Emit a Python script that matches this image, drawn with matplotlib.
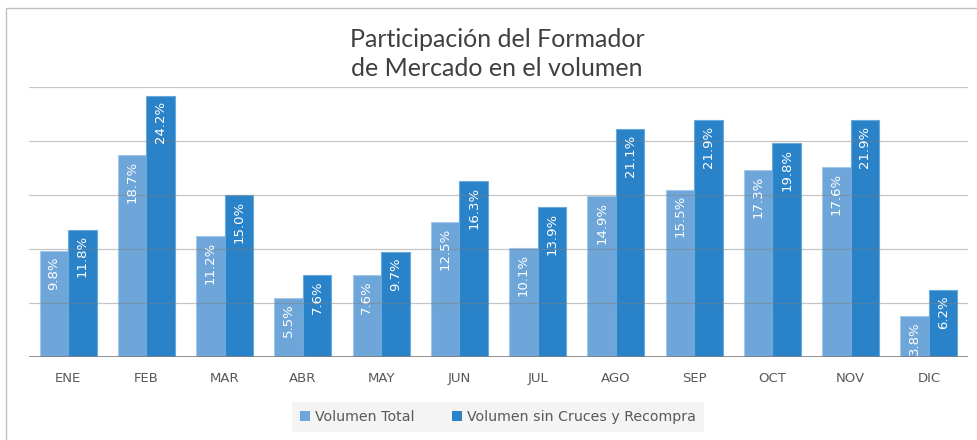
import matplotlib
matplotlib.use("Agg")
import matplotlib.pyplot as plt
from matplotlib.patches import Patch, Rectangle
import numpy as np

meses = ["ENE", "FEB", "MAR", "ABR", "MAY", "JUN", "JUL", "AGO", "SEP", "OCT", "NOV", "DIC"]
vol_total = [9.8, 18.7, 11.2, 5.5, 7.6, 12.5, 10.1, 14.9, 15.5, 17.3, 17.6, 3.8]
vol_sin_cruces = [11.8, 24.2, 15.0, 7.6, 9.7, 16.3, 13.9, 21.1, 21.9, 19.8, 21.9, 6.2]
series = ["Volumen Total", "Volumen sin Cruces y Recompra"]

c_light = "#6fa6d9"
c_dark = "#2a83c8"

fig = plt.figure(figsize=(9.77, 4.40), dpi=100)
ax = fig.add_axes([29 / 977, 1 - 357 / 440, 939 / 977, 270 / 440])

x = np.arange(len(meses))
w = 0.365
b1 = ax.bar(x - w / 2, vol_total, w, color=c_light, edgecolor="#a3c8ea", linewidth=0.8, zorder=2)
b2 = ax.bar(x + w / 2, vol_sin_cruces, w, color=c_dark, edgecolor="#6aa9dc", linewidth=0.8, zorder=2)

# value labels, rotated, inside top of each bar
for bars, vals in ((b1, vol_total), (b2, vol_sin_cruces)):
    for r, v in zip(bars, vals):
        ax.annotate(f"{v:.1f}%", (r.get_x() + r.get_width() / 2, v),
                    xytext=(0, -4), textcoords="offset points",
                    rotation=90, ha="center", va="top",
                    color="white", fontsize=9.5, zorder=4)

ax.set_xlim(-0.5, len(meses) - 0.5)
ax.set_ylim(0, 25)
ax.set_yticks([5, 10, 15, 20, 25])
ax.yaxis.grid(True, color="#808080", alpha=0.45, linewidth=0.9, zorder=3)
ax.set_axisbelow(False)
ax.tick_params(axis="y", left=False, labelleft=False)
ax.axhline(0, color="#7f7f7f", linewidth=1.2, zorder=3)
for s in ax.spines.values():
    s.set_visible(False)

ax.set_xticks(x)
ax.set_xticklabels(meses, fontsize=9.5, color="#595959")
ax.tick_params(axis="x", length=0, pad=11)

fig.text(497 / 977, 1 - 54 / 440, "Participación del Formador\nde Mercado en el volumen",
         ha="center", va="center", fontsize=18, family="Lato", color="#404040",
         linespacing=1.35)

handles = [Patch(facecolor=c_light, edgecolor="none"), Patch(facecolor=c_dark, edgecolor="none")]
leg = fig.legend(handles, series, loc="center", bbox_to_anchor=(498 / 977, 1 - 417 / 440),
                 ncol=2, frameon=True, fancybox=False, facecolor="#f2f2f2", edgecolor="none",
                 handlelength=0.7, handleheight=0.7, handletextpad=0.4, columnspacing=2.6,
                 fontsize=10.2, borderpad=0.55, borderaxespad=0)
for t in leg.get_texts():
    t.set_color("#595959")

# chart area border (top and left visible)
fig.add_artist(Rectangle((6 / 977, -0.1), 1.2, 1 - 8 / 440 + 0.1, transform=fig.transFigure,
                         fill=False, edgecolor="#bfbfbf", linewidth=1.0))

fig.savefig("out.png", dpi=100)
